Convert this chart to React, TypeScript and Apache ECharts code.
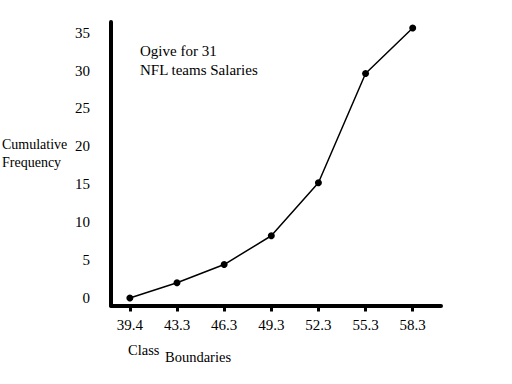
import React, { useEffect, useRef } from "react";
import * as echarts from "echarts";

const boundaries = ["39.4", "43.3", "46.3", "49.3", "52.3", "55.3", "58.3"];
const cumulative = [0, 2, 4.4, 8.2, 15.2, 29.6, 35.6];
const yTicks = [0, 5, 10, 15, 20, 25, 30, 35];

const FONT = "Liberation Serif";

export default function App() {
  const ref = useRef<HTMLDivElement>(null);
  useEffect(() => {
    if (!ref.current) return;
    const chart = echarts.init(ref.current, undefined, { renderer: "svg" });
    const idx = boundaries.map((_, i) => i);
    chart.setOption({
      animation: false,
      backgroundColor: "#ffffff",
      grid: { left: 111, right: 71, top: 22, bottom: 78.5 },
      xAxis: {
        type: "value",
        min: -0.4,
        max: 6.6,
        splitLine: { show: false },
        axisLine: { onZero: false, lineStyle: { color: "#000", width: 4 } },
        axisTick: { show: true, customValues: idx, length: 6, lineStyle: { color: "#000", width: 3 } },
        axisLabel: {
          customValues: idx,
          formatter: (v: number) => boundaries[Math.round(v)] ?? "",
          color: "#000",
          fontFamily: FONT,
          fontSize: 15,
          margin: 12,
        },
      },
      yAxis: {
        type: "value",
        min: -1,
        max: 36.4,
        splitLine: { show: false },
        axisLine: { show: true, onZero: false, lineStyle: { color: "#000", width: 4 } },
        axisTick: { show: false },
        axisLabel: {
          customValues: yTicks,
          color: "#000",
          fontFamily: FONT,
          fontSize: 15,
          margin: 21,
        },
      },
      graphic: [
        { type: "text", left: 140, top: 43, style: { text: "Ogive for 31", fontFamily: FONT, fontSize: 15, fill: "#000" } },
        { type: "text", left: 140, top: 62, style: { text: "NFL teams Salaries", fontFamily: FONT, fontSize: 15, fill: "#000" } },
        { type: "text", left: 2, top: 137, style: { text: "Cumulative", fontFamily: FONT, fontSize: 14, fill: "#000" } },
        { type: "text", left: 2, top: 155, style: { text: "Frequency", fontFamily: FONT, fontSize: 14, fill: "#000" } },
        { type: "text", left: 128, top: 342, style: { text: "Class", fontFamily: FONT, fontSize: 14.5, fill: "#000" } },
        { type: "text", left: 165, top: 349, style: { text: "Boundaries", fontFamily: FONT, fontSize: 14.5, fill: "#000" } },
      ],
      series: [
        {
          type: "line",
          data: cumulative.map((v, i) => [i, v]),
          symbol: "circle",
          symbolSize: 7,
          itemStyle: { color: "#000" },
          lineStyle: { color: "#000", width: 1.5 },
        },
      ],
    });
    return () => chart.dispose();
  }, []);
  return (
    <div
      ref={ref}
      style={{ position: "fixed", left: 0, top: 0, width: 512, height: 384, background: "#fff" }}
    />
  );
}
